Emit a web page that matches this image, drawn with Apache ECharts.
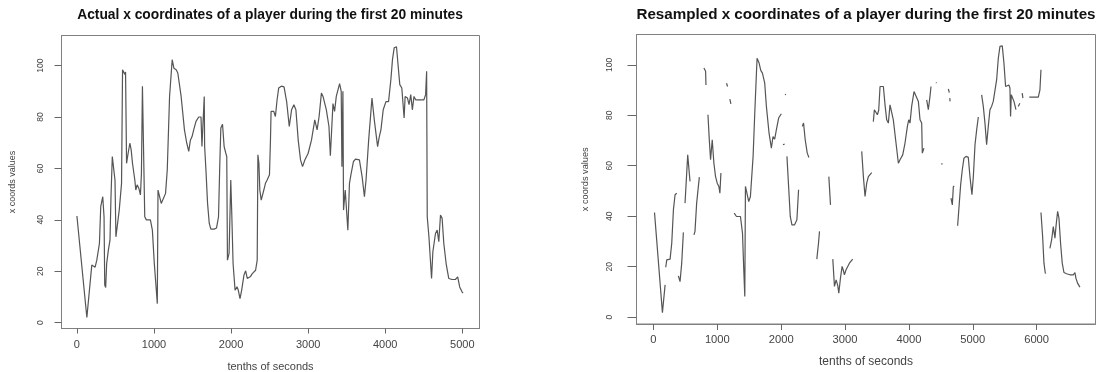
<!DOCTYPE html>
<html>
<head>
<meta charset="utf-8">
<title>x coordinates of a player</title>
<script src="https://cdn.jsdelivr.net/npm/echarts@6/dist/echarts.min.js"></script>
<style>
  html, body { margin: 0; padding: 0; background: #fff; }
  #chart { width: 1097px; height: 372px; }
</style>
</head>
<body>
<div id="chart"></div>
<script>
// actual trace (tenths of seconds, x coordinate)
const leftTime = [
  0, 129, 193, 236, 258, 292, 309, 335, 348, 352, 361, 373, 386, 408, 429, 442, 459, 481, 494, 506,
  524, 549, 579, 592, 609, 622, 631, 644, 665, 687, 704, 721, 751, 764, 781, 803, 824, 837, 850, 863,
  880, 901, 923, 953, 979, 1004, 1030, 1043, 1052, 1073, 1094, 1116, 1150, 1172, 1202, 1236, 1258, 1288, 1309, 1352,
  1395, 1425, 1451, 1472, 1494, 1515, 1545, 1580, 1610, 1622, 1640, 1652, 1657, 1674, 1695, 1717, 1738, 1781, 1811, 1837,
  1854, 1867, 1889, 1910, 1931, 1944, 1953, 1974, 1996, 2009, 2026, 2052, 2077, 2094, 2116, 2137, 2167, 2189, 2210, 2232,
  2253, 2275, 2318, 2339, 2348, 2361, 2373, 2391, 2404, 2425, 2446, 2468, 2498, 2511, 2519, 2554, 2575, 2597, 2618, 2652,
  2687, 2721, 2755, 2785, 2815, 2841, 2871, 2901, 2927, 2957, 3000, 3043, 3086, 3116, 3142, 3172, 3193, 3236, 3270, 3288,
  3309, 3322, 3343, 3365, 3408, 3429, 3438, 3451, 3459, 3481, 3494, 3515, 3536, 3558, 3588, 3614, 3665, 3700, 3730, 3751,
  3785, 3828, 3858, 3901, 3923, 3944, 3974, 4009, 4043, 4073, 4094, 4116, 4146, 4172, 4189, 4215, 4240, 4245, 4258, 4288,
  4309, 4331, 4352, 4373, 4395, 4438, 4502, 4524, 4537, 4545, 4567, 4601, 4618, 4652, 4674, 4695, 4717, 4738, 4760, 4790,
  4824, 4867, 4910, 4940, 4966, 4996, 5010
];
const leftValue = [
  41.5, 2.0, 22.4, 21.6, 24.3, 30.8, 45.1, 49.0, 49.3, 41.2, 14.6, 13.7, 23.0, 28.2, 32.1, 49.0, 64.6, 64.0, 55.5, 33.4,
  32.8, 43.8, 54.2, 98.4, 97.8, 96.5, 97.5, 62.0, 66.0, 69.8, 67.2, 62.0, 55.5, 51.6, 53.6, 52.3, 49.7, 58.0, 92.0, 91.3,
  41.2, 40.0, 39.3, 40.0, 36.0, 23.0, 12.6, 7.4, 51.6, 51.9, 46.4, 45.8, 50.3, 59.4, 88.0, 102.3, 99.0, 98.4, 97.1, 88.0,
  75.0, 69.8, 66.6, 71.0, 72.4, 75.0, 78.3, 80.0, 80.0, 68.5, 68.5, 88.0, 68.5, 59.4, 46.4, 38.6, 36.4, 36.4, 36.8, 41.2,
  62.0, 75.7, 77.2, 68.5, 66.0, 64.6, 24.3, 27.0, 55.5, 42.5, 23.0, 12.6, 14.0, 12.6, 9.4, 12.6, 18.5, 20.2, 17.2, 17.8,
  18.0, 19.1, 20.4, 24.3, 65.3, 62.0, 51.6, 47.7, 48.4, 51.6, 54.2, 55.5, 57.5, 71.0, 82.2, 82.2, 80.2, 86.7, 91.3, 92.0,
  91.7, 86.0, 76.3, 82.8, 84.8, 82.8, 71.0, 63.3, 60.7, 63.3, 65.9, 71.0, 78.9, 75.0, 80.2, 89.3, 88.0, 82.8, 76.3, 64.9,
  65.3, 85.2, 82.2, 88.0, 93.0, 90.0, 60.7, 90.0, 43.8, 51.6, 51.0, 36.0, 54.2, 58.1, 62.7, 63.6, 63.3, 56.8, 49.0, 55.5,
  71.0, 87.4, 78.9, 68.5, 72.4, 75.0, 82.8, 86.0, 86.0, 94.5, 102.3, 106.9, 107.3, 98.4, 92.6, 91.3, 91.7, 79.6, 88.0, 87.4,
  84.8, 88.7, 82.8, 88.0, 86.7, 86.7, 86.7, 88.7, 97.8, 41.2, 33.4, 17.2, 27.6, 34.7, 36.0, 31.5, 41.9, 40.6, 30.8, 23.0,
  17.2, 16.8, 16.8, 17.8, 13.9, 12.0, 11.5
];

// resampled trace, null marks a gap
const rightTime = [
  16, 140, 182, null,
  192, 208, 234, 260, 286, 312, 338, 364, null,
  390, 416, 442, 468, null,
  494, 536, 556, 572, null,
  634, 650, 676, 718, null,
  790, 816, 822, null,
  853, 874, 894, 920, 946, 972, 998, 1024, 1040, 1056, null,
  1144, 1160, null,
  1196, 1212, null,
  1264, 1300, 1326, 1362, 1394, 1414, 1430, 1440, 1466, 1492, 1518, 1560, 1586, 1622, 1654, 1680, 1706, 1742, 1768, 1810,
  1846, 1872, 1898, 1924, 1960, 2002, null,
  2028, 2054, null,
  2064, 2070, null,
  2090, 2116, 2142, 2168, 2210, 2246, 2272, null,
  2330, 2350, 2376, 2408, 2434, null,
  2558, 2584, 2600, null,
  2746, 2772, null,
  2808, 2834, 2860, 2886, 2902, 2928, 2954, 2974, 2990, 3016, 3068, 3120, null,
  3261, 3287, 3313, 3339, 3365, 3417, null,
  3443, 3459, 3485, 3506, 3527, 3548, 3574, 3600, 3626, 3652, 3678, 3704, 3730, 3756, 3798, 3835, 3861, 3903, 3939, 3976,
  3997, 4017, 4043, 4080, 4111, 4148, 4174, 4200, 4210, 4236, null,
  4278, 4304, 4330, 4346, null,
  4424, 4432, null,
  4513, 4520, null,
  4617, 4633, null,
  4640, 4645, null,
  4659, 4680, 4696, 4711, null,
  4763, 4789, 4810, 4836, 4862, 4894, 4930, 4956, 4987, 5009, 5035, 5061, 5087, null,
  5139, 5165, 5191, 5217, 5243, 5269, 5295, 5321, 5348, 5374, 5400, 5426, 5462, 5488, 5514, 5540, 5566, 5582, 5592, 5603,
  5624, 5645, 5676, null,
  5712, 5738, null,
  5774, 5785, null,
  5885, 5948, 6026, 6052, 6068, null,
  6068, 6094, 6115, 6136, 6146, null,
  6208, 6235, 6261, 6276, 6287, 6303, 6329, 6350, 6375, 6401, 6428, 6469, 6522, 6574, 6600, 6615, 6641, 6678
];
const rightValue = [
  41.5, 1.8, 12.8, null,
  19.8, 22.7, 22.3, 23.0, 29.3, 42.5, 48.5, 49.1, null,
  16.4, 14.1, 21.4, 33.6, null,
  45.2, 64.3, 63.7, 53.8, null,
  32.6, 34.0, 45.2, 55.5, null,
  98.7, 97.4, 92.0, null,
  80.2, 70.3, 62.4, 70.3, 61.0, 55.7, 53.1, 51.8, 49.1, 57.1, null,
  92.7, 91.4, null,
  86.4, 84.5, null,
  41.2, 39.9, 39.2, 39.9, 33.3, 18.8, 8.2, 51.8, 51.8, 45.8, 47.8, 63.7, 80.8, 102.6, 100.7, 97.8, 96.7, 92.7, 83.5, 72.9,
  67.0, 71.6, 70.5, 74.2, 78.9, 80.6, null,
  68.3, 68.6, null,
  88.4, 88.0, null,
  63.7, 51.8, 39.9, 36.6, 36.6, 38.6, 50.5, null,
  75.6, 76.9, 70.3, 65.0, 63.3, null,
  23.0, 29.3, 34.0, null,
  55.7, 44.5, null,
  23.0, 12.2, 14.8, 12.5, 9.5, 15.5, 20.1, 18.5, 16.8, 18.8, 21.4, 23.0, null,
  65.7, 55.7, 47.8, 53.1, 55.7, 57.3, null,
  77.5, 82.2, 82.2, 80.2, 82.0, 91.4, 92.0, 91.4, 84.1, 78.2, 76.9, 84.1, 84.5, 78.2, 69.0, 61.0, 62.4, 64.3, 69.0, 75.6,
  78.2, 76.9, 83.5, 89.4, 88.8, 85.5, 78.2, 76.9, 65.0, 67.0, null,
  86.1, 82.2, 87.5, 91.4, null,
  93.0, 92.8, null,
  61.0, 60.5, null,
  90.4, 89.0, null,
  86.8, 85.5, null,
  47.2, 44.5, 51.8, 51.8, null,
  36.2, 45.2, 52.4, 58.4, 63.0, 63.7, 63.3, 55.7, 48.5, 55.7, 68.3, 74.2, 79.3, null,
  88.1, 83.5, 76.9, 68.3, 75.6, 82.2, 83.5, 85.5, 86.1, 94.1, 102.6, 107.3, 107.5, 100.7, 91.4, 90.8, 92.0, 90.8, 79.5, 88.1,
  88.8, 85.5, 82.2, null,
  83.5, 84.8, null,
  88.8, 86.8, null,
  87.2, 87.2, 87.2, 90.1, 98.0, null,
  41.5, 32.0, 21.4, 17.4, 17.6, null,
  27.3, 30.6, 35.9, 35.7, 31.3, 35.9, 41.9, 39.2, 29.3, 21.4, 17.7, 17.2, 16.8, 16.8, 17.7, 15.5, 13.5, 11.9
];

const leftXTicks = [0, 1000, 2000, 3000, 4000, 5000];
const rightXTicks = [0, 1000, 2000, 3000, 4000, 5000, 6000];
const yTicks = [0, 20, 40, 60, 80, 100];

const FONT = '"Liberation Sans", Arial, Helvetica, sans-serif';
const INK = '#444';
const FRAME = '#808080';
const TICK = '#666';

function pairs(ts, vs) {
  return ts.map((t, i) => (vs[i] == null ? [null, null] : [t, vs[i]]));
}

function xAxis(gridIndex, min, max, ticks, cfg) {
  return {
    type: 'value',
    gridIndex,
    min,
    max,
    splitLine: { show: false },
    axisLine: { show: true, onZero: false, lineStyle: { color: FRAME, width: 1 } },
    axisTick: { show: true, inside: false, length: cfg.tick, customValues: ticks, lineStyle: { color: TICK, width: 1 } },
    axisLabel: {
      customValues: ticks,
      formatter: (v) => String(v),
      margin: cfg.margin,
      color: INK,
      fontFamily: FONT,
      fontSize: cfg.fontSize
    },
    name: 'tenths of seconds',
    nameLocation: 'middle',
    nameGap: cfg.nameGap,
    nameTextStyle: { color: INK, fontFamily: FONT, fontSize: cfg.nameSize }
  };
}

function yAxis(gridIndex, min, max, cfg) {
  return {
    type: 'value',
    gridIndex,
    min,
    max,
    splitLine: { show: false },
    axisLine: { show: true, onZero: false, lineStyle: { color: FRAME, width: 1 } },
    axisTick: { show: true, inside: false, length: cfg.tick, customValues: yTicks, lineStyle: { color: TICK, width: 1 } },
    axisLabel: {
      customValues: yTicks,
      formatter: (v) => String(v),
      rotate: 90,
      margin: cfg.margin,
      color: INK,
      fontFamily: FONT,
      fontSize: cfg.fontSize
    },
    name: 'x coords values',
    nameLocation: 'middle',
    nameRotate: 90,
    nameGap: cfg.nameGap,
    nameTextStyle: { color: INK, fontFamily: FONT, fontSize: cfg.nameSize }
  };
}

const lineStyle = { color: '#555', width: 1.2 };

const chart = echarts.init(document.getElementById('chart'), null, { renderer: 'canvas' });
chart.setOption({
  backgroundColor: '#fff',
  animation: false,
  graphic: [
    {
      type: 'text', x: 270, y: 15,
      style: {
        text: 'Actual x coordinates of a player during the first 20 minutes',
        align: 'center', verticalAlign: 'middle',
        font: 'bold 13.8px ' + FONT, fill: '#111'
      }
    },
    {
      type: 'text', x: 866, y: 15,
      style: {
        text: 'Resampled x coordinates of a player during the first 20 minutes',
        align: 'center', verticalAlign: 'middle',
        font: 'bold 15.2px ' + FONT, fill: '#111'
      }
    }
  ],
  grid: [
    { left: 61.5, top: 35.5, width: 418, height: 293, outerBoundsMode: 'none', containLabel: false,
      show: true, borderColor: FRAME, borderWidth: 1, backgroundColor: 'transparent' },
    { left: 636.5, top: 34.5, width: 459, height: 289.5, outerBoundsMode: 'none', containLabel: false,
      show: true, borderColor: FRAME, borderWidth: 1, backgroundColor: 'transparent' }
  ],
  xAxis: [
    xAxis(0, -200, 5223, leftXTicks, { tick: 5, margin: 11, fontSize: 11, nameGap: 33, nameSize: 11 }),
    xAxis(1, -266, 6922, rightXTicks, { tick: 6, margin: 10, fontSize: 11.2, nameGap: 32, nameSize: 12 })
  ],
  yAxis: [
    yAxis(0, -2.26, 111.7, { tick: 7, margin: 16, fontSize: 8.5, nameGap: 44, nameSize: 9 }),
    yAxis(1, -2.7, 112, { tick: 9, margin: 22, fontSize: 8.5, nameGap: 47, nameSize: 9.2 })
  ],
  series: [
    {
      type: 'line', xAxisIndex: 0, yAxisIndex: 0,
      data: pairs(leftTime, leftValue),
      showSymbol: false, symbol: 'none', connectNulls: false,
      lineStyle
    },
    {
      type: 'line', xAxisIndex: 1, yAxisIndex: 1,
      data: pairs(rightTime, rightValue),
      showSymbol: false, symbol: 'none', connectNulls: false,
      lineStyle
    }
  ]
});
</script>
</body>
</html>
